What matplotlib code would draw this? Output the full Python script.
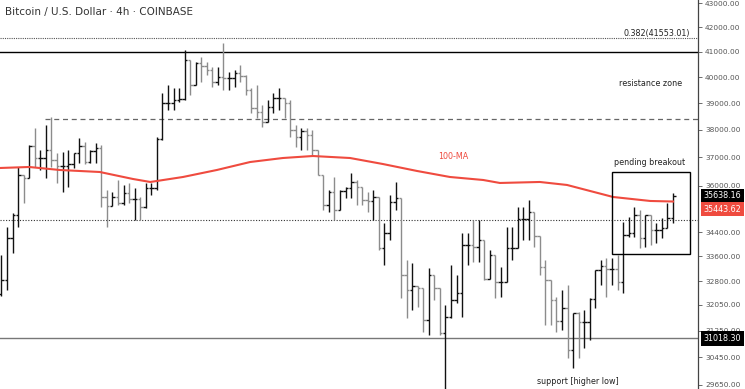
import numpy as np
import matplotlib
matplotlib.use('Agg')
import matplotlib.pyplot as plt
import matplotlib.transforms as mtransforms
from matplotlib.ticker import FormatStrFormatter, NullLocator

# 4h bars (open = previous close)
first_open = 32400
highs = [33646, 34576, 35050, 36655, 36370, 37447, 38072, 37266, 38183, 38482,
         37157, 37194, 37266, 37157, 37704, 37557, 37266, 37521, 37447, 35844,
         35774, 36194, 36019, 36089, 35914, 35600, 36089, 36089, 37740, 39392,
         39700, 39584, 39584, 41077, 40678, 40599, 40798, 40599, 40402, 40402,
         41357, 40206, 40284, 40481, 40088, 39584, 39700, 38934, 39125, 39392,
         39584, 39201, 39125, 38183, 38072, 38072, 37998, 37266, 36370, 35844,
         36300, 35844, 35948, 36441, 36194, 35948, 35774, 35844, 35600, 34711,
         35670, 36124, 35324, 33482, 33385, 32614, 32298, 33223, 32997, 32582,
         32047, 33320, 32997, 34374, 34374, 34812, 34812, 33909, 33810, 33646,
         33255, 34576, 34576, 35255, 35255, 35496, 35084, 34274, 33482, 32837,
         32298, 32519, 32677, 31737, 31829, 31891, 32266, 33158, 33482, 33548,
         33548, 33646, 34744, 34914, 35255, 35153, 34982, 34982, 34711, 34880,
         35393, 35739]
lows = [32329, 32519, 33712, 34576, 35393, 36655, 36655, 36548, 36264, 36655,
        36089, 35774, 35948, 36619, 36798, 36762, 36798, 36798, 35255, 34576,
        35290, 35324, 35324, 35393, 34812, 34812, 35221, 35670, 35844, 37630,
        38745, 38745, 39048, 39125, 39315, 39700, 39816, 40088, 39623, 39700,
        39508, 39508, 39623, 39816, 39315, 38632, 38445, 38109, 38445, 38632,
        38745, 38445, 37740, 37375, 37266, 37266, 37085, 36370, 35153, 35084,
        34812, 35221, 35566, 35566, 35324, 35324, 35084, 34812, 33810, 33320,
        34141, 35153, 32266, 31644, 31891, 31985, 31216, 31125, 32204, 31125,
        29400, 31644, 32110, 31675, 33320, 33417, 33417, 32837, 33158, 32266,
        32298, 32773, 33482, 34141, 34141, 34141, 33909, 32997, 31429, 31429,
        31216, 31276, 30435, 30140, 30435, 30733, 30973, 31954, 32677, 32298,
        32677, 32519, 32424, 34240, 34240, 33876, 33909, 33975, 34041, 34207,
        34711, 34711]
closes = [32837, 34207, 34982, 36370, 36264, 37411, 36977, 36977, 37266, 36905,
          36690, 36690, 36762, 37157, 37411, 36833, 37230, 37339, 35600, 35290,
          35600, 35393, 35739, 35531, 35531, 35255, 35914, 35914, 37667, 39010,
          39010, 39125, 39163, 40678, 39700, 40560, 40441, 40284, 39816, 40011,
          39972, 39972, 40167, 40050, 39508, 38821, 38670, 38295, 38859, 39201,
          39201, 39010, 37998, 37740, 37961, 37814, 37266, 36370, 35324, 35774,
          35153, 35809, 35914, 36124, 35948, 35496, 35462, 35600, 33876, 34374,
          35427, 35566, 32997, 32519, 32645, 32582, 31583, 32997, 32582, 31185,
          31675, 32204, 32424, 33975, 33975, 33909, 34141, 32869, 33646, 32773,
          32773, 33876, 33876, 34846, 34846, 35084, 34274, 33255, 32837, 32204,
          31552, 31954, 30673, 31799, 31521, 31521, 32235, 33158, 33287, 33190,
          33190, 32773, 34307, 34374, 34982, 34207, 34982, 34475, 34475, 34542,
          34880, 35638.16]

# 100-period moving average, sampled along the bars
ma_idx = [-0.3, 5, 10.5, 17.7, 23.7, 26.8, 28, 32.7, 38.8, 44.8, 50.7, 56.1,
          62.8, 68.7, 74.9, 80.8, 86.8, 89.8, 97, 101.9, 110.2, 116.9, 121]
ma_val = [36619, 36655, 36548, 36477, 36229, 36124, 36159, 36300, 36548, 36833,
          36977, 37049, 36977, 36762, 36512, 36300, 36194, 36089, 36124, 36019,
          35600, 35462, 35443.62]

yticks = [43000, 42000, 41000, 40000, 39000, 38000, 37000, 36000,
          34400, 33600, 32800, 32050, 31250, 30450, 29650]

fib_level = 41553.01
resistance = 41000
zone_top = 38400
zone_bottom = 34812
support = 31018.30
last_close = 35638.16
last_ma = 35443.62

closes = np.array(closes)
opens = np.concatenate([[first_open], closes[:-1]])
highs = np.maximum(np.array(highs), np.maximum(opens, closes))
lows = np.minimum(np.array(lows), np.minimum(opens, closes))
idx = np.arange(len(closes))

fig = plt.figure(figsize=(7.45, 3.89), dpi=100)
ax = fig.add_axes([0, 0, 698 / 745, 1])

up = closes >= opens
cols = np.where(up, '#111111', '#8c8c8c')
tick = 0.45
ax.vlines(idx, lows, highs, colors=cols, lw=1.0, zorder=3)
ax.hlines(opens, idx - tick, idx, colors=cols, lw=1.0, zorder=3)
ax.hlines(closes, idx, idx + tick, colors=cols, lw=1.0, zorder=3)

ax.plot(ma_idx, ma_val, color='#ef4b3f', lw=1.5, zorder=4, solid_joinstyle='round')

# levels
ax.axhline(fib_level, color='#555555', lw=0.8, ls=(0, (1, 1)), zorder=2)
ax.axhline(resistance, color='#000000', lw=1.0, zorder=2)
ax.hlines(zone_top, 7.9, 126, color='#666666', lw=0.9, ls=(0, (4, 3)), zorder=2)
ax.axhline(zone_bottom, color='#333333', lw=0.8, ls=(0, (1, 1.5)), zorder=2)
ax.axhline(support, color='#777777', lw=1.0, zorder=2)

# pending breakout box
ax.add_patch(plt.Rectangle((110.0, 33680), 14.05, 36477 - 33680, fill=False,
                           ec='#000000', lw=1.0, zorder=5))

fs = 5.8
ax.text(124.05, fib_level, '0.382(41553.01)', ha='right', va='bottom',
        fontsize=fs, color='#222222')
ax.text(117, 39740, 'resistance zone', ha='center', va='center', fontsize=fs, color='#222222')
ax.text(81.4, 37049, '100-MA', ha='center', va='center', fontsize=fs, color='#ef4b3f')
ax.text(116.8, 36833, 'pending breakout', ha='center', va='center', fontsize=fs, color='#222222')
ax.text(103.9, 29755, 'support [higher low]', ha='center', va='center', fontsize=fs,
        color='#222222')

ax.set_xlim(-0.27, 125.5)
ax.set_yscale('log')
ax.set_ylim(29530, 43126)
ax.set_xticks([])
ax.yaxis.tick_right()
ax.set_yticks(yticks)
ax.yaxis.set_minor_locator(NullLocator())
ax.yaxis.set_major_formatter(FormatStrFormatter('%.2f'))
ax.tick_params(axis='y', length=3, width=0.6, colors='#555555', labelsize=5.3, pad=2)
for s in ['left', 'top', 'bottom']:
    ax.spines[s].set_visible(False)
ax.spines['right'].set_color('#444444')
ax.spines['right'].set_linewidth(0.9)

# price tags on the axis
trans = mtransforms.blended_transform_factory(ax.transAxes, ax.transData)
for val, dy, fc in [(last_close, 0, '#000000'), (last_ma, -5.5, '#ef4b3f'),
                    (support, 0, '#000000')]:
    ax.annotate('%.2f' % val, xy=(1.0, val), xycoords=trans, xytext=(4, dy),
                textcoords='offset points', ha='left', va='center', fontsize=5.8,
                color='white', annotation_clip=False, zorder=10,
                bbox=dict(boxstyle='square,pad=0.35', fc=fc, ec='none'))

fig.text(5 / 745, 1 - 12 / 389, 'Bitcoin / U.S. Dollar \u00b7 4h \u00b7 COINBASE',
         ha='left', va='center', fontsize=7.5, color='#333333')

fig.savefig('out.png', dpi=100, facecolor='white')
